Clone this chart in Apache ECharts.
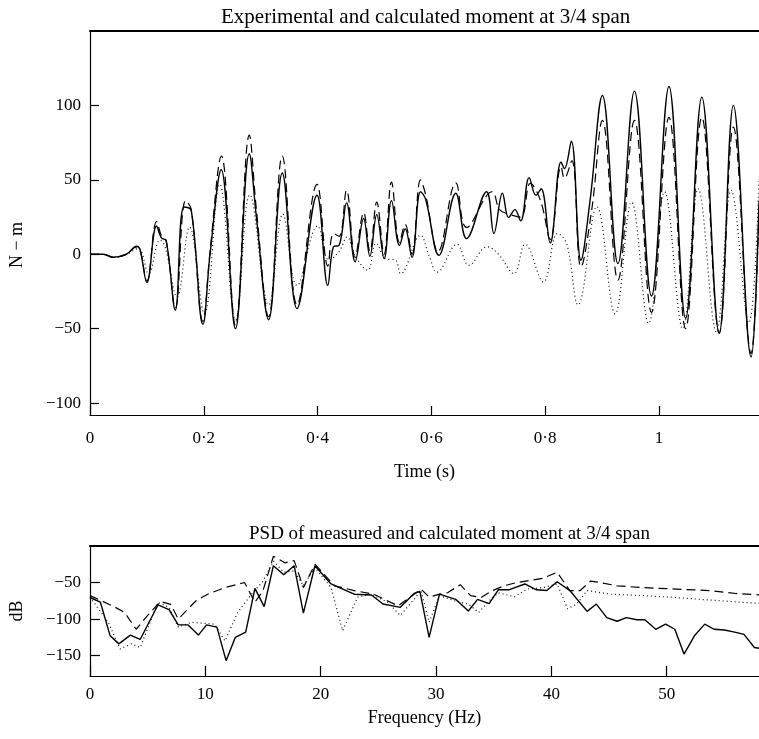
<!DOCTYPE html>
<html>
<head>
<meta charset="utf-8">
<script src="https://cdn.jsdelivr.net/npm/echarts@6/dist/echarts.min.js"></script>
<style>
html,body{margin:0;padding:0;background:#fff;}
#chart{width:759px;height:739px;}
</style>
</head>
<body>
<div id="chart"></div>
<script>
// ---- Top chart: moment vs time ----
const timeTicks = [0, 0.2, 0.4, 0.6, 0.8, 1];
const momentTicks = [-100, -50, 0, 50, 100];

const expTime = [0,0.023,0.041,0.064,0.082,0.088,0.100,0.117,0.1255,0.134,0.150,0.165,0.178,0.1985,0.211,0.2306,0.2557,0.280,0.2925,0.314,0.338,0.364,0.399,0.418,0.428,0.438,0.451,0.466,0.481,0.492,0.504,0.517,0.530,0.544,0.554,0.566,0.581,0.590,0.6135,0.643,0.662,0.697,0.710,0.725,0.736,0.747,0.757,0.772,0.784,0.793,0.809,0.828,0.834,0.846,0.863,0.879,0.9007,0.928,0.957,0.987,1.0177,1.047,1.0755,1.106,1.131,1.162,1.176];
const expMoment = [0,0,-2,0,5.4,3,-19,19,11,9,-37.6,31.8,29.5,-47,0,56.8,-50,67.5,25,-44,54.6,-36.5,39.6,-21,5,6,34.5,-5,24,-1.3,26.6,-3,36,6,17,-2,42,37,-0.7,41,10.5,42,14,41,24.6,30,22.4,51.5,39.6,44,7.6,62,57.5,76,-4,36,106.7,-6.3,109.6,-28,112.7,-43,105.6,-53,100,-69,36];

const calcTime = [0,0.023,0.041,0.064,0.082,0.088,0.100,0.117,0.126,0.134,0.150,0.168,0.178,0.1985,0.211,0.231,0.2557,0.280,0.2925,0.314,0.338,0.364,0.399,0.418,0.428,0.438,0.451,0.466,0.481,0.492,0.504,0.517,0.530,0.544,0.554,0.566,0.581,0.590,0.612,0.643,0.662,0.707,0.720,0.736,0.757,0.774,0.792,0.809,0.828,0.834,0.847,0.863,0.882,0.9007,0.928,0.957,0.987,1.0177,1.047,1.0755,1.106,1.131,1.162,1.176];
const calcMoment = [0,0,-2,0,5,3,-18,22,12,9,-36,36,30,-45,2,66,-48,80,30,-42,66,-34,47,-8,14,12,43,-2,28,2,35,0,48.5,8,20,0,50,40,2,48,18,42,30,27,25,47.6,36,10,59,51,63,-8.5,30,90,-17.4,90,-39,92,-50,92,-53,85.5,-66.6,30];

const simpTime = [0,0.023,0.041,0.064,0.085,0.103,0.123,0.132,0.153,0.175,0.201,0.228,0.256,0.281,0.314,0.339,0.364,0.400,0.420,0.438,0.452,0.466,0.488,0.503,0.520,0.537,0.546,0.581,0.596,0.610,0.645,0.666,0.698,0.718,0.745,0.765,0.797,0.822,0.838,0.858,0.891,0.923,0.952,0.982,1.010,1.042,1.069,1.101,1.127,1.158,1.176];
const simpMoment = [0,0,-2,0,4,-13,9.5,5,-28.6,18.3,-39.8,47,-44,40,-34,27,-21,19,-4,2,11.6,-1,-10.7,7.4,-3,-4,-13,12.7,-1,-12,6.7,-7.4,5,0,-13,6.7,-18.6,14,7,-34,32,-40,35,-46.5,42,-50,44,-52,43,-46,50];

// ---- Bottom chart: PSD ----
const freqTicks = [0, 10, 20, 30, 40, 50];
const dbTicks = [-150, -100, -50];

const psdMeasFreq = [0,0.9,1.75,2.5,3.5,4.35,5.9,6.85,7.65,8.5,9.4,10.1,11,11.8,12.6,13.5,14.3,15.1,15.9,16.8,17.7,18.5,19.5,20.9,22.9,24.4,25.4,26.9,28.1,28.6,29.4,30.3,31.7,32.8,33.6,34.6,35.4,36.3,37.7,38.7,39.6,40.5,41.6,43.1,43.9,44.8,45.7,46.5,47.4,48.1,49.05,49.9,50.7,51.5,52.4,53.3,54.1,55.0,55.9,56.7,57.6,58];
const psdMeasDb = [-70.5,-77,-123,-134,-122,-128,-80.5,-87,-108,-108,-122,-108,-111,-157,-125,-118,-58,-83,-27,-39.5,-27,-92,-27,-52,-66,-67,-79.5,-84,-65,-62,-125,-66,-73,-89,-73,-79,-60,-60,-52,-60,-61,-49,-61,-89.5,-79.5,-98,-103,-98,-101,-101,-114,-107,-114,-148,-123,-107,-114,-115,-118,-121,-139,-140];

const psdCalcFreq = [0,1,2.2,3,4,5,6.1,7,7.65,8.5,9.2,10.2,11.7,13.4,14.3,15,15.9,16.9,17.7,18.5,19.5,21.2,22.9,24.6,26.7,28.7,29.4,30.3,31,32.1,33,33.9,34.9,35.9,37,38.2,39.3,40.5,41.6,42.5,43.4,44.2,45.7,48,50.8,53.7,56,58];
const psdCalcDb = [-68,-75,-84,-91,-114,-95,-76,-80,-100,-86,-75,-66,-57,-50,-77,-61,-14,-23,-20,-57,-25,-54.5,-61,-66,-82,-59,-70,-66,-64,-53,-68,-70.5,-61,-54.5,-50,-47,-44,-36,-61,-61,-48,-50,-54.5,-57,-59,-61,-65,-67];

const psdSimpFreq = [0,1.6,2.6,3.6,4.35,5.9,6.85,7.65,8.8,10.8,11.7,12.8,14,15,15.9,16.8,17.7,18.5,19.5,20.9,21.9,23.2,24.4,25.8,26.9,28.1,28.7,29.4,30.3,31.6,32.8,33.7,34.6,35.4,36.8,37.9,39.3,40.5,41.4,42.2,43.1,45.1,48,50.8,53.7,56.5,58];
const psdSimpDb = [-70,-105,-141,-134,-139,-77,-84,-111,-104.5,-107,-130,-91,-66,-48,-20.5,-36,-34,-54.5,-29.5,-57,-116,-70,-66,-77,-95,-73,-61,-104.5,-68,-75,-79.5,-91,-75,-64,-69.5,-59,-57,-52,-86,-79.5,-61,-66,-68,-70.5,-74,-77,-78.6];

const zip = (a, b) => a.map((v, i) => [v, b[i]]);
const FONT = '"Liberation Serif", "DejaVu Serif", serif';
const fmtNum = v => String(v).replace('.', '\u00b7').replace('-', '\u2212');
const TICK_FS = 17;
const NAME_FS = 18;

function valueAxis(extra) {
  return Object.assign({
    type: 'value',
    splitLine: { show: false },
    axisLine: { show: true, onZero: false, lineStyle: { color: '#000', width: 1.2 } },
    nameLocation: 'middle'
  }, extra);
}
function ticks(customValues, len, margin) {
  return {
    axisLabel: { color: '#000', fontFamily: FONT, fontSize: TICK_FS, margin, formatter: fmtNum, customValues },
    axisTick: { show: true, inside: true, length: len, lineStyle: { color: '#000', width: 1.2 }, customValues }
  };
}
function topFrame(gridIndex, min, max) {
  return {
    type: 'value', gridIndex, position: 'top', min, max,
    axisLine: { show: true, onZero: false, lineStyle: { color: '#000', width: 2 } },
    axisTick: { show: false }, axisLabel: { show: false }, splitLine: { show: false }
  };
}

const solid = { color: '#000', width: 1.4, type: 'solid' };
const dashed = { color: '#000', width: 1.2, type: [9, 5] };
const dotted = { color: '#111', width: 1.2, type: [1, 3] };

const option = {
  backgroundColor: '#fff',
  animation: false,
  title: [
    { text: 'Experimental and calculated moment at 3/4 span', left: 216, top: 2,
      textStyle: { fontFamily: FONT, fontSize: 21, fontWeight: 'normal', color: '#000' } },
    { text: 'PSD of measured and calculated moment at 3/4 span', left: 244, top: 520,
      textStyle: { fontFamily: FONT, fontSize: 19, fontWeight: 'normal', color: '#000' } }
  ],
  grid: [
    { left: 88, right: 0, top: 31, height: 384 },
    { left: 88, right: 0, top: 546, height: 130 }
  ],
  xAxis: [
    valueAxis(Object.assign({ gridIndex: 0, min: 0, max: 1.176, name: 'Time (s)', nameGap: 48,
      nameTextStyle: { color: '#000', fontFamily: FONT, fontSize: NAME_FS } }, ticks(timeTicks, 9, 15))),
    topFrame(0, 0, 1.176),
    valueAxis(Object.assign({ gridIndex: 1, min: 0, max: 58, name: 'Frequency (Hz)', nameGap: 33,
      nameTextStyle: { color: '#000', fontFamily: FONT, fontSize: NAME_FS } }, ticks(freqTicks, 10, 10))),
    topFrame(1, 0, 58)
  ],
  yAxis: [
    valueAxis(Object.assign({ gridIndex: 0, min: -108, max: 150, name: 'N \u2212 m', nameGap: 64,
      nameTextStyle: { color: '#000', fontFamily: FONT, fontSize: NAME_FS, padding: [0, 44, 0, 0] } }, ticks(momentTicks, 9, 9))),
    valueAxis(Object.assign({ gridIndex: 1, min: -178, max: 0, name: 'dB', nameGap: 64,
      nameTextStyle: { color: '#000', fontFamily: FONT, fontSize: NAME_FS } }, ticks(dbTicks, 10, 9)))
  ],
  series: [
    { type: 'line', xAxisIndex: 0, yAxisIndex: 0, data: zip(simpTime, simpMoment), showSymbol: false, smooth: 0.4, lineStyle: dotted },
    { type: 'line', xAxisIndex: 0, yAxisIndex: 0, data: zip(calcTime, calcMoment), showSymbol: false, smooth: 0.4, lineStyle: dashed },
    { type: 'line', xAxisIndex: 0, yAxisIndex: 0, data: zip(expTime, expMoment), showSymbol: false, smooth: 0.4, lineStyle: solid },
    { type: 'line', xAxisIndex: 2, yAxisIndex: 1, data: zip(psdSimpFreq, psdSimpDb), showSymbol: false, lineStyle: dotted },
    { type: 'line', xAxisIndex: 2, yAxisIndex: 1, data: zip(psdCalcFreq, psdCalcDb), showSymbol: false, lineStyle: dashed },
    { type: 'line', xAxisIndex: 2, yAxisIndex: 1, data: zip(psdMeasFreq, psdMeasDb), showSymbol: false, lineStyle: solid }
  ]
};

const chart = echarts.init(document.getElementById('chart'), null, { renderer: 'canvas' });
chart.setOption(option);
</script>
</body>
</html>
